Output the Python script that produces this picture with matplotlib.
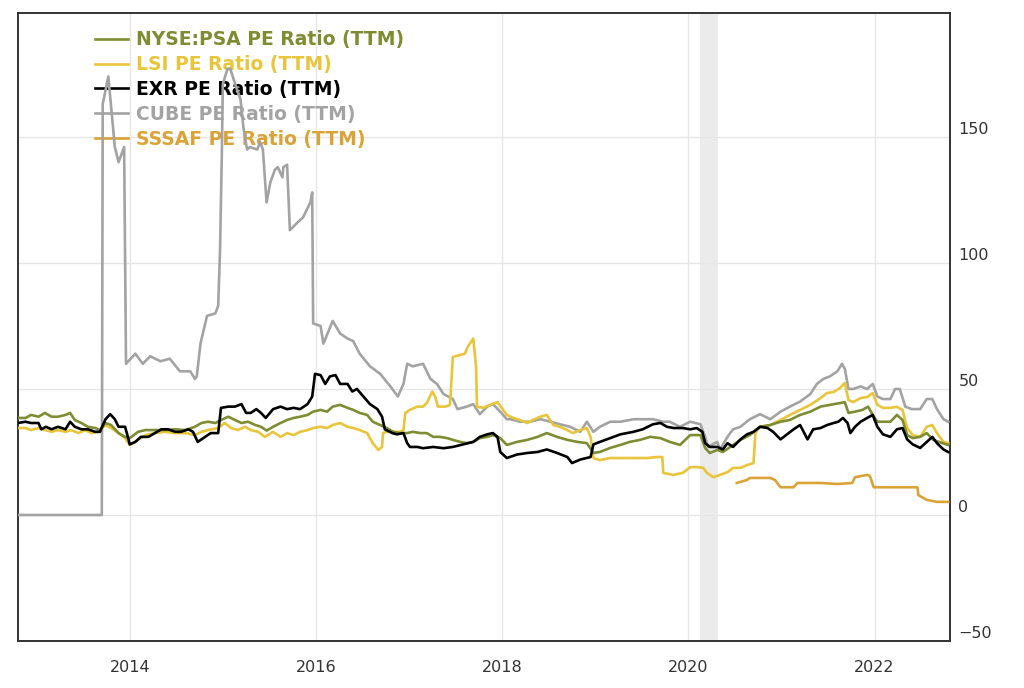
import matplotlib
matplotlib.use("Agg")
import matplotlib.pyplot as plt

# PE ratio (TTM) series, x in decimal years
cube_x = [2012.80, 2013.70, 2013.71, 2013.77, 2013.84, 2013.88, 2013.94, 2013.96, 2014.06, 2014.14,
          2014.22, 2014.33, 2014.43, 2014.54, 2014.65, 2014.70, 2014.72, 2014.76, 2014.83, 2014.92,
          2014.95, 2014.97, 2014.99, 2015.00, 2015.05, 2015.08, 2015.15, 2015.19, 2015.22, 2015.26,
          2015.29, 2015.37, 2015.40, 2015.43, 2015.47, 2015.51, 2015.56, 2015.59, 2015.64, 2015.65,
          2015.69, 2015.72, 2015.80, 2015.86, 2015.94, 2015.96, 2015.97, 2016.05, 2016.08, 2016.18,
          2016.26, 2016.34, 2016.40, 2016.47, 2016.58, 2016.69, 2016.80, 2016.88, 2016.94, 2016.98,
          2017.04, 2017.15, 2017.23, 2017.30, 2017.37, 2017.47, 2017.52, 2017.62, 2017.69, 2017.76,
          2017.84, 2017.90, 2017.98, 2018.05, 2018.09, 2018.19, 2018.30, 2018.41, 2018.52, 2018.62,
          2018.73, 2018.84, 2018.91, 2018.98, 2019.05, 2019.16, 2019.27, 2019.41, 2019.51, 2019.62,
          2019.73, 2019.80, 2019.91, 2020.02, 2020.13, 2020.18, 2020.21, 2020.31, 2020.34, 2020.42,
          2020.48, 2020.56, 2020.66, 2020.77, 2020.88, 2020.99, 2021.09, 2021.20, 2021.31, 2021.38,
          2021.45, 2021.52, 2021.60, 2021.65, 2021.68, 2021.72, 2021.77, 2021.85, 2021.92, 2021.98,
          2022.03, 2022.09, 2022.17, 2022.22, 2022.27, 2022.33, 2022.40, 2022.49, 2022.56, 2022.62,
          2022.67, 2022.74, 2022.79]
cube_y = [0, 0, 163, 174, 146, 140, 146, 60, 64, 60,
          63, 61, 62, 57, 57, 54, 55, 68, 79, 80,
          83, 105, 145, 171, 177, 177, 169, 165, 154, 145,
          146, 145, 148, 145, 124, 132, 137, 138, 134, 138,
          139, 113, 116, 118, 124, 128, 76, 75, 68, 77,
          72, 70, 69, 64, 59, 56, 51, 47, 52, 60,
          59, 60, 54, 52, 48, 46, 42, 43, 44, 40,
          43, 44, 41, 38, 38, 37, 37, 38, 37, 36,
          35, 33, 37, 33, 35, 37, 37, 38, 38, 38,
          37, 37, 35, 37, 36, 31, 27, 29, 26, 31,
          34, 35, 38, 40, 38, 41, 43, 45, 48, 52,
          54, 55, 57, 60, 58, 50, 50, 51, 50, 52,
          47, 46, 46, 50, 50, 43, 42, 42, 46, 46,
          42, 38, 37]

exr_x = [2012.80, 2012.88, 2012.94, 2013.02, 2013.05, 2013.10, 2013.16, 2013.23, 2013.31, 2013.36,
         2013.41, 2013.48, 2013.55, 2013.63, 2013.68, 2013.74, 2013.79, 2013.84, 2013.88, 2013.95,
         2013.98, 2014.00, 2014.06, 2014.12, 2014.20, 2014.27, 2014.34, 2014.41, 2014.49, 2014.55,
         2014.63, 2014.68, 2014.73, 2014.81, 2014.87, 2014.95, 2014.98, 2015.06, 2015.13, 2015.20,
         2015.25, 2015.30, 2015.36, 2015.41, 2015.46, 2015.54, 2015.62, 2015.69, 2015.76, 2015.83,
         2015.91, 2015.96, 2015.99, 2016.05, 2016.10, 2016.15, 2016.21, 2016.26, 2016.34, 2016.39,
         2016.44, 2016.51, 2016.58, 2016.66, 2016.71, 2016.74, 2016.82, 2016.87, 2016.94, 2016.98,
         2017.01, 2017.09, 2017.15, 2017.26, 2017.37, 2017.47, 2017.58, 2017.69, 2017.76, 2017.84,
         2017.90, 2017.95, 2017.98, 2018.05, 2018.16, 2018.27, 2018.38, 2018.48, 2018.59, 2018.70,
         2018.75, 2018.84, 2018.95, 2018.98, 2019.05, 2019.16, 2019.27, 2019.41, 2019.51, 2019.62,
         2019.70, 2019.77, 2019.84, 2019.94, 2020.02, 2020.09, 2020.15, 2020.18, 2020.23, 2020.31,
         2020.37, 2020.42, 2020.48, 2020.56, 2020.63, 2020.70, 2020.77, 2020.85, 2020.91, 2020.99,
         2021.06, 2021.13, 2021.20, 2021.28, 2021.34, 2021.42, 2021.49, 2021.56, 2021.61, 2021.66,
         2021.71, 2021.74, 2021.79, 2021.85, 2021.92, 2021.98, 2022.03, 2022.09, 2022.17, 2022.24,
         2022.30, 2022.35, 2022.41, 2022.49, 2022.56, 2022.62, 2022.67, 2022.74, 2022.79]
exr_y = [36.5, 37, 36.5, 36.5, 34, 35, 34, 35, 34, 37,
         35, 34, 34, 33, 33, 38, 40, 38, 35, 35,
         31, 28, 29, 31, 31, 32.5, 34, 34, 33, 33,
         34, 33, 29, 31, 32.5, 32.5, 42.5, 43, 43, 44,
         40.5, 40.5, 42, 40.5, 38.5, 42, 43, 42, 42.5, 42,
         44, 47, 56, 55.5, 52, 55, 55.5, 52, 52, 49,
         50, 47, 44, 42, 39, 34, 32.5, 32, 32.5, 28.5,
         27, 27, 26.5, 27, 26.5, 27, 28, 29, 31, 32,
         32.5, 31, 25, 22.6, 24, 24.6, 25, 26, 24.6, 23,
         20.6, 22, 23, 28, 29, 30.5, 32, 33, 34, 36,
         36.5, 35, 34.5, 34.5, 34, 34.5, 33, 28.5, 27, 27,
         26, 28.5, 27, 30, 32, 33, 35, 34.5, 33, 30,
         32, 34, 35.7, 30, 34, 34.5, 35.7, 36.5, 37, 38.5,
         36.5, 32.5, 35, 37, 38.5, 39.7, 35, 32, 31, 34,
         34.5, 30, 28, 26.6, 29, 31, 28.5, 26, 25]

psa_x = [2012.80, 2012.88, 2012.94, 2013.02, 2013.09, 2013.16, 2013.23, 2013.31, 2013.36, 2013.41,
         2013.48, 2013.55, 2013.63, 2013.68, 2013.74, 2013.80, 2013.88, 2013.95, 2014.00, 2014.09,
         2014.17, 2014.27, 2014.38, 2014.49, 2014.60, 2014.70, 2014.77, 2014.84, 2014.92, 2014.98,
         2015.06, 2015.13, 2015.20, 2015.27, 2015.35, 2015.41, 2015.47, 2015.54, 2015.62, 2015.69,
         2015.76, 2015.83, 2015.91, 2015.97, 2016.05, 2016.12, 2016.18, 2016.26, 2016.34, 2016.40,
         2016.47, 2016.55, 2016.61, 2016.69, 2016.76, 2016.83, 2016.90, 2016.98, 2017.04, 2017.12,
         2017.19, 2017.26, 2017.33, 2017.41, 2017.47, 2017.55, 2017.62, 2017.69, 2017.76, 2017.84,
         2017.90, 2017.98, 2018.05, 2018.16, 2018.27, 2018.38, 2018.48, 2018.59, 2018.70, 2018.81,
         2018.91, 2018.98, 2019.05, 2019.16, 2019.27, 2019.37, 2019.48, 2019.59, 2019.70, 2019.80,
         2019.91, 2020.02, 2020.13, 2020.18, 2020.23, 2020.31, 2020.37, 2020.45, 2020.56, 2020.66,
         2020.77, 2020.88, 2020.99, 2021.09, 2021.20, 2021.31, 2021.42, 2021.52, 2021.63, 2021.68,
         2021.72, 2021.79, 2021.87, 2021.93, 2021.98, 2022.03, 2022.09, 2022.17, 2022.24, 2022.30,
         2022.35, 2022.41, 2022.49, 2022.56, 2022.63, 2022.73, 2022.79]
psa_y = [38.5, 38.5, 39.7, 39, 40.5, 39, 39, 39.7, 40.5, 37.7,
         36.5, 35, 34.5, 33.7, 36.5, 35.7, 32.5, 31, 30.5, 33,
         33.7, 33.7, 33.7, 34, 33.7, 35, 36.5, 37, 36.5, 37.7,
         39, 37.7, 36.5, 37, 35.7, 35, 33.5, 35, 36.5, 37.7,
         38.5, 39, 39.7, 41, 41.7, 41, 43, 43.7, 42.5, 41.7,
         40.5, 39.7, 37, 35.7, 34.5, 33, 32.5, 32.5, 33, 32.5,
         32.5, 31, 31, 30.5, 29.8, 29, 28.5, 29, 30.5, 31,
         31.7, 30.5, 27.8, 29, 29.8, 31, 32.5, 31, 29.8, 29,
         28.5, 24.6, 25, 26.6, 27.8, 29, 29.8, 31, 30.5, 29,
         27.8, 31.7, 31.7, 26.6, 24.6, 25.8, 25, 27, 29.8, 31.7,
         35, 35.7, 37, 37.7, 39.7, 41, 43, 43.7, 44.4, 44.8,
         40.5, 41, 41.7, 43, 39.7, 37, 37, 37, 39.7, 37.7,
         31.7, 30.5, 31, 32.5, 29.8, 28.5, 27.8]

lsi_x = [2012.80, 2012.88, 2012.94, 2013.02, 2013.09, 2013.16, 2013.23, 2013.31, 2013.37, 2013.45,
         2013.52, 2013.59, 2013.66, 2013.74, 2013.80, 2013.88, 2013.95, 2014.00, 2014.09, 2014.17,
         2014.27, 2014.38, 2014.49, 2014.60, 2014.70, 2014.77, 2014.84, 2014.95, 2015.02, 2015.09,
         2015.16, 2015.24, 2015.30, 2015.38, 2015.45, 2015.54, 2015.62, 2015.69, 2015.76, 2015.83,
         2015.91, 2015.97, 2016.05, 2016.12, 2016.18, 2016.26, 2016.34, 2016.40, 2016.47, 2016.55,
         2016.61, 2016.67, 2016.71, 2016.72, 2016.76, 2016.83, 2016.90, 2016.94, 2016.96, 2017.01,
         2017.09, 2017.15, 2017.19, 2017.25, 2017.28, 2017.31, 2017.39, 2017.44, 2017.47, 2017.55,
         2017.60, 2017.63, 2017.69, 2017.72, 2017.73, 2017.80, 2017.87, 2017.95, 2018.01, 2018.05,
         2018.12, 2018.19, 2018.27, 2018.33, 2018.41, 2018.48, 2018.55, 2018.62, 2018.70, 2018.76,
         2018.84, 2018.91, 2018.95, 2018.98, 2019.05, 2019.16, 2019.27, 2019.41, 2019.56, 2019.66,
         2019.72, 2019.73, 2019.84, 2019.94, 2020.02, 2020.09, 2020.16, 2020.20, 2020.27, 2020.34,
         2020.42, 2020.48, 2020.56, 2020.63, 2020.70, 2020.72, 2020.77, 2020.88, 2020.99, 2021.09,
         2021.20, 2021.31, 2021.42, 2021.49, 2021.56, 2021.63, 2021.68, 2021.72, 2021.77, 2021.85,
         2021.92, 2021.98, 2022.03, 2022.09, 2022.17, 2022.24, 2022.30, 2022.35, 2022.41, 2022.49,
         2022.56, 2022.62, 2022.67, 2022.74, 2022.79]
lsi_y = [34.5, 34.5, 33.7, 34.5, 33.7, 33, 33.7, 33, 33.7, 32.5,
         33.7, 32.5, 33, 35.7, 34.5, 32.5, 30.5, 27.8, 29.8, 31.7,
         32.5, 33, 32.5, 32.5, 31.7, 33, 33.7, 34.5, 36.5, 34.5,
         33.7, 35, 33.7, 33, 31, 33, 31, 32.5, 31.7, 33,
         33.7, 34.5, 35, 34.5, 35.7, 36.5, 35, 34.5, 33.7, 32.5,
         28.5, 25.8, 27, 32.5, 33, 33, 33, 33.7, 40.5, 41.7,
         43, 43, 44.4, 49, 47, 43, 43, 43.7, 62.7, 63.5,
         64, 66.7, 70, 58.7, 43, 42.5, 43.7, 44.8, 41.7, 39.7,
         38.5, 37.7, 36.5, 37.7, 39, 39.7, 35.7, 35, 33.7, 32.5,
         33.7, 34.5, 31, 22.6, 21.8, 22.6, 22.6, 22.6, 22.6, 23,
         23, 16.7, 15.9, 16.7, 19, 19, 18.7, 16.7, 15, 15.9,
         17, 18.7, 18.7, 19.8, 20.6, 32.5, 35, 35.7, 37.7, 39.7,
         41.7, 43.7, 46.4, 48.4, 48.8, 50.4, 52.4, 45.6, 44.8, 46.4,
         46.8, 48.4, 43.7, 42.5, 42.5, 42.9, 41.7, 34.5, 31.7, 31,
         35, 35.7, 32.5, 29, 28.5]

sssaf_x = [2020.52, 2020.63, 2020.66, 2020.88, 2020.93, 2020.99, 2021.13, 2021.17, 2021.42, 2021.60,
           2021.76, 2021.79, 2021.92, 2021.95, 2021.99, 2022.14, 2022.46, 2022.47, 2022.56, 2022.67,
           2022.79]
sssaf_y = [12.7, 13.9, 14.7, 14.7, 13.9, 11, 11, 12.7, 12.7, 12.3,
           12.7, 15, 15.9, 15.5, 11, 11, 11, 7.9, 6, 5.2,
           5.2]

recession = (2020.13, 2020.32)
year_ticks = [2014, 2016, 2018, 2020, 2022]
value_ticks = [-50, 0, 50, 100, 150]

fig = plt.figure(figsize=(10.24, 6.88), dpi=100)
ax = fig.add_axes([18 / 1024, 47 / 688, 932 / 1024, 628.3 / 688])

ax.axvspan(*recession, color="#ebebeb", lw=0, zorder=0.5)

lw = 1.9
l_cube, = ax.plot(cube_x, cube_y, color="#a3a3a3", lw=lw, label="CUBE PE Ratio (TTM)", zorder=3)
l_sssaf, = ax.plot(sssaf_x, sssaf_y, color="#d9a338", lw=lw, label="SSSAF PE Ratio (TTM)", zorder=3)
l_lsi, = ax.plot(lsi_x, lsi_y, color="#e8c53a", lw=lw, label="LSI PE Ratio (TTM)", zorder=3)
l_psa, = ax.plot(psa_x, psa_y, color="#7f8c32", lw=lw, label="NYSE:PSA PE Ratio (TTM)", zorder=3)
l_exr, = ax.plot(exr_x, exr_y, color="#000000", lw=lw, label="EXR PE Ratio (TTM)", zorder=3)

ax.set_xlim(2012.80, 2022.81)
ax.set_ylim(-50, 199.3)

ax.set_xticks(year_ticks)
ax.set_xticklabels([str(t) for t in year_ticks])
ax.set_yticks(value_ticks)
ax.set_yticklabels(["\u221250" if v < 0 else str(v) for v in value_ticks])
ax.yaxis.tick_right()
ax.tick_params(axis="y", length=0, pad=6, labelsize=11.5, labelcolor="#333333")
ax.tick_params(axis="x", length=0, pad=14, labelsize=11.5, labelcolor="#333333")
for lbl in ax.get_yticklabels():
    lbl.set_verticalalignment("bottom")

ax.grid(True, color="#e6e6e6", lw=1, zorder=0)
ax.set_axisbelow(True)
for sp in ax.spines.values():
    sp.set_color("#333333")
    sp.set_linewidth(1.4)

handles = [l_psa, l_lsi, l_exr, l_cube, l_sssaf]
leg = ax.legend(handles=handles, loc="upper left", bbox_to_anchor=(0.0826, 0.972),
                frameon=False, borderpad=0, borderaxespad=0, handlelength=1.75,
                handletextpad=0.45, labelspacing=0.31,
                prop={"size": 13.5, "weight": "bold"})
leg.set_zorder(1)
for txt, h in zip(leg.get_texts(), handles):
    txt.set_color(h.get_color())

fig.savefig("out.png", dpi=100)
